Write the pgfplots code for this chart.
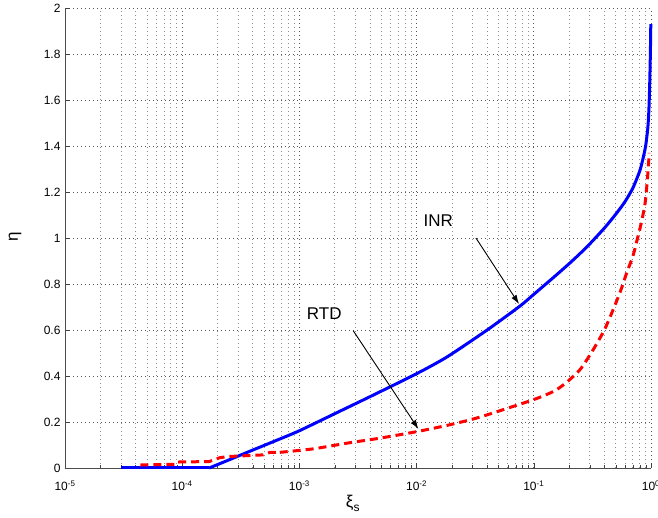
\documentclass[border=0pt]{standalone}
\usepackage{pgfplots}
\pgfplotsset{compat=1.18}
\usepackage{fontspec}
\setmainfont{Liberation Sans}
\usetikzlibrary{arrows.meta}
\begin{document}
\begin{tikzpicture}
\begin{axis}[
  at={(0,0)}, anchor=south west,
  width=586pt, height=460pt, scale only axis,
  xmode=log, xmin=1e-5, xmax=1, ymin=0, ymax=2,
  axis x line*=bottom, axis y line*=left,
  axis line style={-, black!70, line width=0.8pt},
  xtick={1e-5,1e-4,1e-3,1e-2,1e-1,1},
  xticklabels={10\textsuperscript{-5},10\textsuperscript{-4},10\textsuperscript{-3},10\textsuperscript{-2},10\textsuperscript{-1},10\textsuperscript{0}},
  ytick={0,0.2,0.4,0.6,0.8,1,1.2,1.4,1.6,1.8,2},
  yticklabels={0,0.2,0.4,0.6,0.8,1,1.2,1.4,1.6,1.8,2},
  tick label style={font=\fontsize{12}{14}\selectfont},
  xticklabel style={yshift=-9pt},
  yticklabel style={xshift=-1pt},
  grid=both,
  major grid style={black!65, line width=0.7pt, dash pattern=on 0.7pt off 3.3pt},
  minor grid style={black!45, line width=0.7pt, dash pattern=on 0.7pt off 3.3pt},
  tick align=inside, major tick length=5pt, minor tick length=3pt,
  tick style={black!75},
  clip=false,
]
% INR (flat part, then smooth rising part)
\addplot[blue, line width=3pt, forget plot] coordinates {
(3e-5,0) (1.7e-4,0)
};
\addplot[blue, line width=3pt, smooth, tension=0.4] coordinates {
(1.7e-4,0) (2.5e-4,0.035) (4e-4,0.078) (6.8e-4,0.126) (1e-3,0.162)
(2e-3,0.236) (4e-3,0.31) (1e-2,0.41) (1.82e-2,0.483) (4e-2,0.60) (7.62e-2,0.704)
(0.1,0.755) (0.15,0.832) (0.2,0.888) (0.25,0.934) (0.3,0.974) (0.4,1.043)
(0.5,1.103) (0.6,1.158) (0.7,1.217) (0.8,1.29) (0.85,1.34) (0.9,1.40)
(0.94,1.48) (0.96,1.56) (0.975,1.67) (0.985,1.77) (0.992,1.86) (0.996,1.93)
};
% RTD (stepped low part, then smooth part)
\addplot[red, line width=3pt, dash pattern=on 8pt off 5pt, forget plot] coordinates {
(4.4e-5,0.013) (8.9e-5,0.016) (9.2e-5,0.026) (1.7e-4,0.028) (2.1e-4,0.045)
(2.5e-4,0.05) (4.9e-4,0.057) (5.6e-4,0.068) (6.8e-4,0.068)
};
\addplot[red, line width=3pt, dash pattern=on 8pt off 5pt, smooth, tension=0.4] coordinates {
(6.8e-4,0.068) (1.3e-3,0.083)
(2.55e-3,0.108) (4.9e-3,0.13) (1.05e-2,0.16) (2e-2,0.19) (3.5e-2,0.222)
(0.098,0.296) (0.15,0.335) (0.192,0.374) (0.25,0.43) (0.32,0.513) (0.4,0.60)
(0.474,0.687) (0.55,0.77) (0.62,0.848) (0.7,0.92) (0.76,0.99) (0.83,1.07)
(0.89,1.15) (0.93,1.25) (0.955,1.33) (0.965,1.37)
};
\draw[black, line width=0.9pt, -{Latex[length=9pt,width=6pt]}] (axis cs:0.0321,1.0) -- (axis cs:0.0748,0.713);
\draw[black, line width=0.9pt, -{Latex[length=9pt,width=6pt]}] (axis cs:2.88e-3,0.597) -- (axis cs:1.035e-2,0.17);
\node[font=\fontsize{17}{20}\selectfont] at (axis cs:0.0153,1.075) {INR};
\node[font=\fontsize{17}{20}\selectfont] at (axis cs:1.63e-3,0.672) {RTD};
\node[font=\fontsize{17}{20}\selectfont, rotate=90] at ([xshift=-50pt]rel axis cs:0,0.502) {η};
\node[font=\fontsize{17}{20}\selectfont] at ([yshift=-35pt]rel axis cs:0.491,0) {ξ\raisebox{-0.45ex}{\fontsize{12}{14}\selectfont s}};
\end{axis}
\pgfresetboundingbox
\path[use as bounding box] (-65pt,-50pt) rectangle (593pt,468pt);
\end{tikzpicture}
\end{document}
